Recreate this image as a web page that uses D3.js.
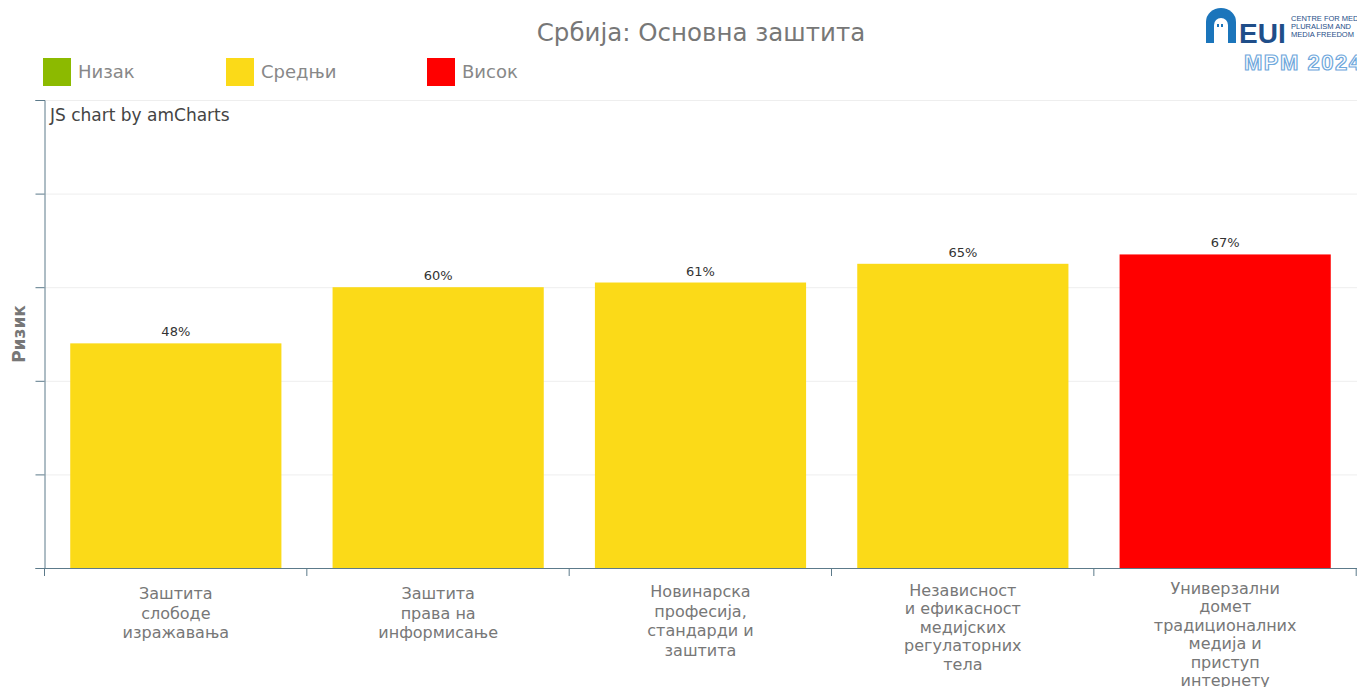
<!DOCTYPE html>
<html><head><meta charset="utf-8">
<script src="https://cdn.jsdelivr.net/npm/d3@7"></script>
<style>body{margin:0;background:#fff;overflow:hidden}svg{display:block;font-family:"DejaVu Sans",Verdana,sans-serif}</style>
</head><body>
<script>
const categories = [
  ["Заштита","слободе","изражавања"],
  ["Заштита","права на","информисање"],
  ["Новинарска","професија,","стандарди и","заштита"],
  ["Независност","и ефикасност","медијских","регулаторних","тела"],
  ["Универзални","домет","традиционалних","медија и","приступ","интернету"]
];
const values = [48, 60, 61, 65, 67];
const riskLevels = ["mid","mid","mid","mid","high"];
const legendLabels = ["Низак","Средњи","Висок"];
const legendKeys = ["low","mid","high"];
const colors = {low:"#8cba00", mid:"#fbda18", high:"#ff0000"};
const yTicks = [0,20,40,60,80,100];

(function(){
const W=1357,H=687;
const svg=d3.select("body").append("svg").attr("width",W).attr("height",H);
const pLeft=44,pRight=1357,pTop=100,pBottom=568;
const x=d3.scaleBand().domain(d3.range(values.length)).range([pLeft,pRight]).paddingInner(0.195).paddingOuter(0.1);
const y=d3.scaleLinear().domain([0,100]).range([pBottom,pTop]);
const step=x.step();

// title
svg.append("text").attr("x",701).attr("y",41).attr("text-anchor","middle")
  .attr("font-size",24.5).attr("fill","#777").text("Србија: Основна заштита");

// legend
const lx=[43,226,427];
legendLabels.forEach((l,i)=>{
  svg.append("rect").attr("x",lx[i]).attr("y",58).attr("width",28).attr("height",28).attr("fill",colors[legendKeys[i]]);
  svg.append("text").attr("x",lx[i]+35).attr("y",78).attr("font-size",18).attr("fill","#888").text(l);
});

// gridlines
svg.append("g").selectAll("line").data(yTicks.filter(t=>t>0)).join("line")
  .attr("x1",pLeft).attr("x2",pRight).attr("y1",d=>y(d)+0.5).attr("y2",d=>y(d)+0.5)
  .attr("stroke","#eee").attr("stroke-width",1);

// y axis
const yAxis=d3.axisLeft(y).tickValues(yTicks).tickSize(9).tickFormat("");
const gy=svg.append("g").attr("transform",`translate(${pLeft+0.5},0)`).call(yAxis);
gy.select(".domain").attr("stroke","#5c7a8a");
gy.selectAll(".tick line").attr("stroke","#5c7a8a");

// bars
svg.append("g").selectAll("rect").data(values).join("rect")
  .attr("x",(d,i)=>x(i)).attr("width",x.bandwidth())
  .attr("y",d=>y(d)).attr("height",d=>pBottom-y(d))
  .attr("fill",(d,i)=>colors[riskLevels[i]]);

// value labels
svg.append("g").selectAll("text").data(values).join("text")
  .attr("x",(d,i)=>x(i)+x.bandwidth()/2).attr("y",d=>y(d)-7)
  .attr("text-anchor","middle").attr("font-size",13).attr("fill","#333").text(d=>d+"%");

// x axis
svg.append("line").attr("x1",pLeft).attr("x2",pRight).attr("y1",pBottom+0.5).attr("y2",pBottom+0.5).attr("stroke","#5c7a8a");
const bounds=d3.range(values.length+1).map(i=>pLeft+i*step);
svg.append("g").selectAll("line").data(bounds).join("line")
  .attr("x1",d=>Math.min(d,W-1)+0.5).attr("x2",d=>Math.min(d,W-1)+0.5).attr("y1",pBottom).attr("y2",pBottom+8).attr("stroke","#5c7a8a");

// category labels
const cl=svg.append("g");
categories.forEach((lines,i)=>{
  const cx=x(i)+x.bandwidth()/2;
  const t=cl.append("text").attr("x",cx).attr("y",599-(lines.length-3)*1.7).attr("text-anchor","middle")
    .attr("font-size",16).attr("fill","#777");
  lines.forEach((ln,j)=>t.append("tspan").attr("x",cx).attr("dy",j?(lines.length>4?18.5:19.5):0).text(ln));
});

// y label
svg.append("text").attr("transform","translate(25,334) rotate(-90)").attr("text-anchor","middle")
  .attr("font-size",17).attr("font-weight","bold").attr("fill","#777").text("Ризик");

// credit
svg.append("text").attr("x",50).attr("y",121).attr("font-size",17).attr("fill","#444").text("JS chart by amCharts");

// logo
const lg=svg.append("g");
lg.append("path").attr("d","M1206,43 L1206,22 A15,14 0 0 1 1236,22 L1236,43 Z").attr("fill","#1b75bb");
lg.append("path").attr("d","M1214,43 L1214,25 A7,7 0 0 1 1228,25 L1228,43 Z").attr("fill","#fff");
lg.append("rect").attr("x",1217).attr("y",24).attr("width",2).attr("height",3).attr("fill","#1b75bb");
lg.append("rect").attr("x",1221).attr("y",24).attr("width",2).attr("height",3).attr("fill","#1b75bb");
lg.append("text").attr("x",1239).attr("y",43).attr("font-size",28).attr("font-weight","bold")
  .attr("font-family","Liberation Sans Narrow, Liberation Sans, sans-serif").attr("fill","#1f4e89").text("EUI");
["CENTRE FOR MEDIA","PLURALISM AND","MEDIA FREEDOM"].forEach((s,i)=>{
  lg.append("text").attr("x",1291).attr("y",21+i*8).attr("font-size",7.5)
    .attr("font-family","Liberation Sans Narrow, Liberation Sans, sans-serif").attr("fill","#1f4e89").text(s);
});
lg.append("text").attr("x",1244).attr("y",70).attr("font-size",22).attr("font-weight","bold")
  .attr("font-family","Liberation Sans, sans-serif").attr("letter-spacing",1.5)
  .attr("fill","#fff").attr("stroke","#6fa8dc").attr("stroke-width",1.2).text("MPM 2024");
})();
</script>
</body></html>
